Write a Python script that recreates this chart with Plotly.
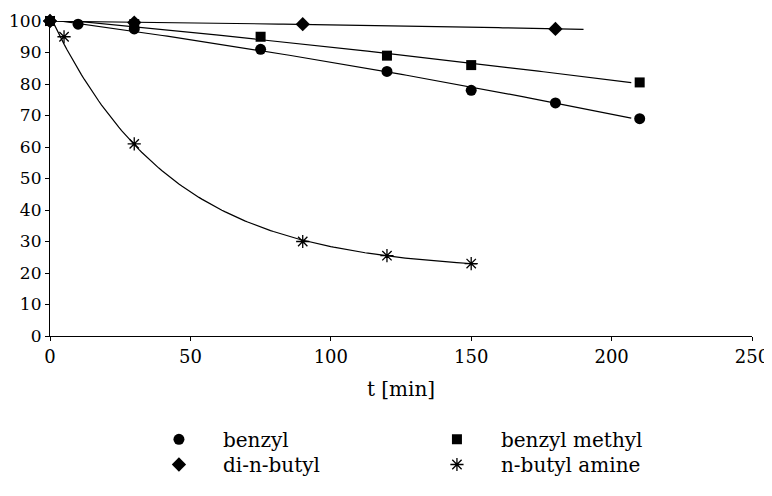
import numpy as np
import plotly.graph_objects as go

# ---- data ----
benzyl_t = [0, 10, 30, 75, 120, 150, 180, 210]
benzyl_y = [100, 99, 97.5, 91, 84, 78, 74, 69]

bmethyl_t = [0, 30, 75, 120, 150, 210]
bmethyl_y = [100, 99, 95, 89, 86, 80.5]

dibutyl_t = [0, 30, 90, 180]
dibutyl_y = [100, 99.5, 99, 97.5]

nbutyl_t = [0, 5, 30, 90, 120, 150]
nbutyl_y = [100, 95, 61, 30, 25.5, 23]

# extent of each fitted curve (minutes)
fit_end = {"benzyl": 207, "benzyl methyl": 207, "di-n-butyl": 190, "n-butyl amine": 152}

x_ticks = [0, 50, 100, 150, 200, 250]
y_ticks = list(range(0, 101, 10))

FONT = "DejaVu Serif"


def poly_fit(t, y, end, deg=2):
    c = np.polyfit(t, y, deg)
    tt = np.linspace(0, end, 120)
    return tt, np.polyval(c, tt)


def plateau_exp_fit(t, y, end):
    t = np.asarray(t, float)
    y = np.asarray(y, float)
    best = None
    for c in np.linspace(0, min(y) - 0.5, 400):
        A = np.vstack([t, np.ones_like(t)]).T
        k, b = np.linalg.lstsq(A, np.log(y - c), rcond=None)[0]
        pred = c + np.exp(b + k * t)
        sse = float(np.sum((pred - y) ** 2))
        if best is None or sse < best[0]:
            best = (sse, c, k, b)
    _, c, k, b = best
    tt = np.linspace(0, end, 150)
    return tt, c + np.exp(b + k * tt)


series = [
    ("benzyl", benzyl_t, benzyl_y, "circle", 11, "poly", "legend"),
    ("benzyl methyl", bmethyl_t, bmethyl_y, "square", 10, "poly", "legend"),
    ("di-n-butyl", dibutyl_t, dibutyl_y, "diamond", 11, "poly", "legend2"),
    ("n-butyl amine", nbutyl_t, nbutyl_y, "asterisk-open", 11, "exp", "legend2"),
]

fig = go.Figure()

for name, t, y, sym, size, kind, lg in series:
    if kind == "poly":
        tt, yy = poly_fit(t, y, fit_end[name])
    else:
        tt, yy = plateau_exp_fit(t, y, fit_end[name])
    fig.add_trace(go.Scatter(x=tt, y=yy, mode="lines", line=dict(color="black", width=1.2),
                             showlegend=False, hoverinfo="skip", cliponaxis=False))

for name, t, y, sym, size, kind, lg in series:
    fig.add_trace(go.Scatter(
        x=t, y=y, mode="markers", name=name, cliponaxis=False, legend=lg,
        marker=dict(symbol=sym, size=size, color="black",
                    line=dict(color="black", width=1.3 if "asterisk" in sym else 0)),
    ))

legend_common = dict(
    orientation="h", x=0.121, xanchor="left", yanchor="top",
    entrywidth=185, entrywidthmode="pixels", itemwidth=78,
    font=dict(family=FONT, size=20, color="black"),
    bgcolor="rgba(0,0,0,0)",
)

# the page body keeps the browser's default 8px margin, so the figure is
# sized to fill the rest of the 772x496 window
fig.update_layout(
    width=764, height=488,
    margin=dict(l=42, r=20, t=13, b=153),
    paper_bgcolor="white", plot_bgcolor="white",
    font=dict(family=FONT, size=17, color="black"),
    showlegend=True,
    legend=dict(legend_common, y=-0.266),
    legend2=dict(legend_common, y=-0.346),
    xaxis=dict(
        range=[0, 250], tickvals=x_ticks, ticktext=[str(v) for v in x_ticks],
        showgrid=False, zeroline=False, showline=True, linecolor="black", linewidth=1.2,
        ticks="outside", ticklen=4, tickcolor="black", automargin=False,
        tickfont=dict(family=FONT, size=18),
        title=dict(text="t [min]", font=dict(family=FONT, size=20), standoff=16),
    ),
    yaxis=dict(
        range=[0, 100], tickvals=y_ticks, ticktext=[str(v) for v in y_ticks],
        showgrid=False, zeroline=False, showline=True, linecolor="black", linewidth=1.2,
        ticks="outside", ticklen=4, tickcolor="black", automargin=False,
        tickfont=dict(family=FONT, size=17),
    ),
)

fig.write_html("out.html")
